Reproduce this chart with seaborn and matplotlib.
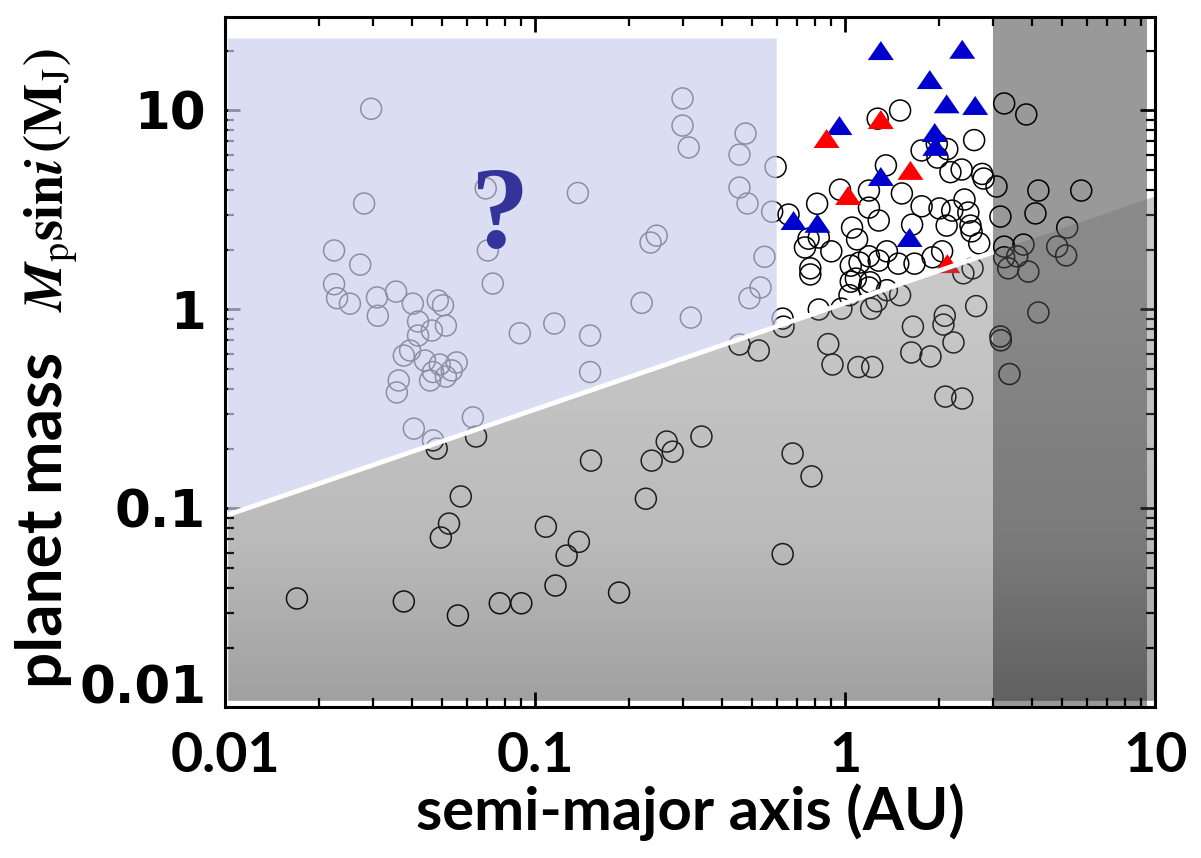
import numpy as np
import matplotlib
matplotlib.use("Agg")
import matplotlib.pyplot as plt
from matplotlib.patches import Polygon
from matplotlib.ticker import NullFormatter
from matplotlib.transforms import ScaledTranslation
import seaborn as sns

# ---------------------------------------------------------------- data
# Radial-velocity planets: semi-major axis (AU) and minimum mass (M_J)
rv_a = [
    0.0170, 0.0376, 0.0562, 0.0767, 0.090, 0.186, 0.116, 0.126, 0.138, 0.108,
    0.0526, 0.0495, 0.0574, 0.048, 0.0643, 0.151, 0.227, 0.237, 0.265, 0.277,
    0.343, 0.627, 0.675, 0.777, 0.455, 0.525, 0.627, 0.631, 0.88, 0.908,
    1.10, 1.22, 1.65, 1.63, 1.88, 2.10, 2.38, 2.23, 2.09, 2.07, 2.64,
    1.50, 1.27, 2.60, 1.97, 2.13, 1.76, 1.98, 1.35, 0.595, 2.18, 2.37, 2.76,
    2.79, 3.07, 0.96, 1.19, 1.52, 0.81, 1.76, 1.19, 2.01, 2.21, 2.42, 2.49,
    0.655, 0.58, 1.28, 1.64, 2.12, 2.53, 1.05, 2.55, 0.76, 0.82, 1.09, 2.70,
    0.74, 0.90, 1.36, 2.05, 1.19, 1.11, 1.28, 1.48, 1.67, 1.91, 0.77, 0.77,
    1.04, 1.08, 1.20, 1.19, 1.04, 1.36, 1.50, 1.03, 1.26, 1.21, 0.97, 0.82,
    2.40, 2.57,
    3.25, 3.83, 4.19, 5.76, 3.16, 4.10, 5.19, 3.25, 3.75, 4.82, 5.15, 3.58,
    3.25, 3.35, 3.89, 4.19, 3.16, 3.17, 3.38,
    0.0295, 0.028, 0.0224, 0.0272, 0.0224, 0.0229, 0.0252, 0.0308, 0.031,
    0.0355, 0.0402, 0.0418, 0.0484, 0.0503, 0.0418, 0.0463, 0.0514, 0.0394,
    0.0376, 0.0362, 0.0357, 0.044, 0.0467, 0.0491, 0.0514, 0.0537, 0.0557,
    0.0457, 0.0405, 0.0467, 0.0628, 0.0691, 0.0702, 0.0728, 0.089, 0.137,
    0.115, 0.15, 0.15, 0.235, 0.246, 0.22, 0.317, 0.298, 0.298, 0.312,
    0.476, 0.455, 0.455, 0.483, 0.548, 0.532, 0.49,
]
rv_mass = [
    0.0353, 0.0341, 0.029, 0.0334, 0.0334, 0.0378, 0.041, 0.058, 0.068, 0.081,
    0.084, 0.0715, 0.115, 0.20, 0.23, 0.174, 0.112, 0.174, 0.217, 0.193,
    0.23, 0.059, 0.189, 0.145, 0.667, 0.622, 0.90, 0.82, 0.67, 0.529,
    0.514, 0.514, 0.82, 0.608, 0.581, 0.365, 0.357, 0.683, 0.93, 0.84, 1.04,
    10.0, 9.1, 7.1, 6.8, 6.4, 6.3, 5.8, 5.3, 5.2, 4.9, 5.05, 4.8,
    4.55, 4.15, 4.0, 3.96, 3.83, 3.4, 3.3, 3.25, 3.22, 3.14, 3.57, 3.07,
    3.0, 3.1, 2.8, 2.67, 2.64, 2.64, 2.58, 2.47, 2.27, 2.30, 2.25, 2.15,
    2.05, 1.96, 1.96, 1.96, 1.85, 1.72, 1.76, 1.70, 1.70, 1.83, 1.61, 1.50,
    1.66, 1.43, 1.37, 1.29, 1.38, 1.25, 1.18, 1.18, 1.10, 1.01, 1.01, 1.0,
    1.52, 1.61,
    10.85, 9.55, 3.96, 3.96, 2.93, 3.04, 2.58, 2.07, 2.12, 2.07, 1.87, 1.85,
    1.83, 1.61, 1.55, 0.966, 0.732, 0.70, 0.474,
    10.2, 3.41, 1.98, 1.68, 1.34, 1.14, 1.07, 1.15, 0.93,
    1.23, 1.07, 0.87, 1.11, 1.05, 0.74, 0.784, 0.83, 0.622,
    0.587, 0.44, 0.383, 0.554, 0.485, 0.529, 0.46, 0.494, 0.542,
    0.44, 0.252, 0.22, 0.287, 4.06, 1.98, 1.35, 0.76, 3.85,
    0.85, 0.74, 0.485, 2.17, 2.35, 1.08, 0.91, 11.5, 8.4, 6.52,
    7.66, 6.0, 4.1, 3.41, 1.84, 1.29, 1.14,
]

# Planets around evolved stars
blue_a = [1.30, 2.38, 1.87, 2.12, 2.62, 0.956, 1.94, 1.95, 1.30, 0.68, 0.812, 1.61]
blue_mass = [20.0, 20.3, 14.3, 10.8, 10.6, 8.4, 7.75, 6.6, 4.66, 2.8, 2.71, 2.3]
red_a = [1.30, 0.869, 1.62, 1.02, 2.13]
red_mass = [9.0, 7.23, 5.0, 3.74, 1.70]

# Axis ticks
x_ticks = [0.01, 0.1, 1, 10]
x_tick_labels = ["0.01", "0.1", "1", "10"]
y_ticks = [0.01, 0.1, 1, 10]
y_tick_labels = ["0.01", "0.1", "1", "10"]

# Shaded regions (AU, M_J)
X_MIN, X_MAX = 0.01, 10.0
Y_MIN, Y_MAX = 0.01, 29.5
REGION_LEFT = 0.0102
DETECT_M_LEFT, DETECT_M_RIGHT = 0.092, 3.7   # detection-limit line at 0.01 and 10 AU
GRAY_BOTTOM = 0.0108
UNKNOWN_RIGHT, UNKNOWN_TOP = 0.6, 23.0
BAND_LO, BAND_HI = 3.0, 9.4

# ---------------------------------------------------------------- style
sns.set_theme(style="white")
plt.rcParams["font.family"] = ["Lato", "DejaVu Sans"]
plt.rcParams["mathtext.fontset"] = "stix"
for key in ("text.color", "axes.labelcolor", "xtick.color", "ytick.color"):
    plt.rcParams[key] = "black"

fig = plt.figure(figsize=(12.01, 8.58), dpi=100)
ax = fig.add_axes([0.18776, 0.17541, 0.77435, 0.80478])
ax.set_xscale("log")
ax.set_yscale("log")
ax.set_facecolor("white")
ax.set_axisbelow(True)


def detect_limit(a):
    a = np.asarray(a, dtype=float)
    slope = np.log10(DETECT_M_RIGHT / DETECT_M_LEFT) / np.log10(X_MAX / X_MIN)
    return DETECT_M_LEFT * (a / X_MIN) ** slope


# long-period band (drawn beneath the markers)
ax.axvspan(BAND_LO, BAND_HI, color="#999999", lw=0, zorder=0.3)

# markers
sns.scatterplot(x=rv_a, y=rv_mass, ax=ax, marker="o", s=228,
                facecolor="none", edgecolor="black", linewidth=1.1,
                zorder=2, legend=False)
tri = [(-1.0, -0.73), (1.0, -0.73), (0.0, 0.73)]
sns.scatterplot(x=blue_a, y=blue_mass, ax=ax, marker=tri, s=350,
                color="#0000cc", edgecolor="none", linewidth=0,
                zorder=2.2, legend=False)
sns.scatterplot(x=red_a, y=red_mass, ax=ax, marker=tri, s=350,
                color="#ff0000", edgecolor="none", linewidth=0,
                zorder=2.2, legend=False)

# undetectable zone: translucent gray gradient below the detection limit
line_a = np.logspace(np.log10(REGION_LEFT), np.log10(X_MAX), 60)
line_m = detect_limit(line_a)
gray_verts = ([(REGION_LEFT, GRAY_BOTTOM)] + list(zip(line_a, line_m))
              + [(X_MAX, GRAY_BOTTOM)])
gray_clip = Polygon(gray_verts, closed=True, transform=ax.transData,
                    facecolor="none", edgecolor="none")
ax.add_patch(gray_clip)

v = np.linspace(0, 1, 512)
shade = np.interp(v, [0.0, 0.01, 0.24, 0.59, 0.74, 1.0],
                  [0, 5, 73, 110, 115, 115]) / 255.0
rgba = np.zeros((512, 2, 4))
rgba[..., 0] = shade[:, None]
rgba[..., 1] = shade[:, None]
rgba[..., 2] = shade[:, None]
rgba[..., 3] = 0.38
im = ax.imshow(rgba, extent=[0, 1, 0, 1], transform=ax.transAxes,
               origin="lower", aspect="auto", interpolation="bilinear",
               zorder=3)
im.set_clip_path(gray_clip)

# unexplored zone: translucent lavender above the limit at short periods
ua = np.logspace(np.log10(REGION_LEFT), np.log10(UNKNOWN_RIGHT), 40)
blue_verts = (list(zip(ua, detect_limit(ua)))
              + [(UNKNOWN_RIGHT, UNKNOWN_TOP), (REGION_LEFT, UNKNOWN_TOP)])
ax.add_patch(Polygon(blue_verts, closed=True, transform=ax.transData,
                     facecolor=(204 / 255, 208 / 255, 238 / 255),
                     edgecolor="none", alpha=0.69, zorder=3))

# white separator along the detection limit
sa = np.logspace(np.log10(REGION_LEFT), np.log10(BAND_LO), 40)
ax.plot(sa, detect_limit(sa), color="white", lw=3.4,
        solid_capstyle="butt", zorder=3.5)

ax.text(0.077, 2.85, "?", fontsize=84, fontweight="bold",
        family="Liberation Serif", color="#333399",
        ha="center", va="center", zorder=5)

# ---------------------------------------------------------------- axes
ax.set_xlim(X_MIN, X_MAX)
ax.set_ylim(Y_MIN, Y_MAX)
ax.set_autoscale_on(False)

for sp in ax.spines.values():
    sp.set_color("black")
    sp.set_linewidth(2.2)
    sp.set_zorder(6)

ax.set_xticks(x_ticks, labels=x_tick_labels)
ax.set_yticks(y_ticks, labels=y_tick_labels)
ax.xaxis.set_minor_formatter(NullFormatter())
ax.yaxis.set_minor_formatter(NullFormatter())
ax.tick_params(which="both", direction="in", bottom=True, top=True,
               left=True, right=True, color="black")
ax.tick_params(which="major", length=11, width=2.0)
ax.tick_params(which="minor", length=6.5, width=1.6)
ax.tick_params(axis="x", which="major", pad=17, labelsize=40,
               labelcolor="black")
ax.tick_params(axis="y", which="major", pad=14, labelsize=37,
               labelcolor="black")
for lab in ax.get_xticklabels():
    lab.set_fontweight("bold")
    lab.set_family(["Lato", "DejaVu Sans"])
for lab in ax.get_yticklabels():
    lab.set_fontweight("bold")
    lab.set_family("DejaVu Sans")

# lift the lowest mass label clear of the x tick labels
low = ax.yaxis.get_major_ticks()[0].label1
low.set_transform(low.get_transform()
                  + ScaledTranslation(0, 0.23, fig.dpi_scale_trans))

ax.set_xlabel("semi-major axis (AU)", fontsize=43, fontweight="bold",
              color="black")
ax.xaxis.set_label_coords(0.5, -0.11)

# y label: sans-serif words followed by the serif quantity symbol
ax.text(-0.1758, 0.272, "planet mass", transform=ax.transAxes,
        rotation=90, rotation_mode="anchor", ha="center", va="baseline",
        fontsize=46, fontweight="bold", color="black")
ax.text(-0.1758, 0.764,
        r"$\mathbfit{M}_{\mathrm{p}}\mathbf{sin}\mathbfit{i}\,"
        r"\mathbf{(M}_{\mathrm{J}}\mathbf{)}$",
        transform=ax.transAxes, rotation=90, rotation_mode="anchor",
        ha="center", va="baseline", fontsize=39, color="black")

fig.savefig("out.png", dpi=100)
